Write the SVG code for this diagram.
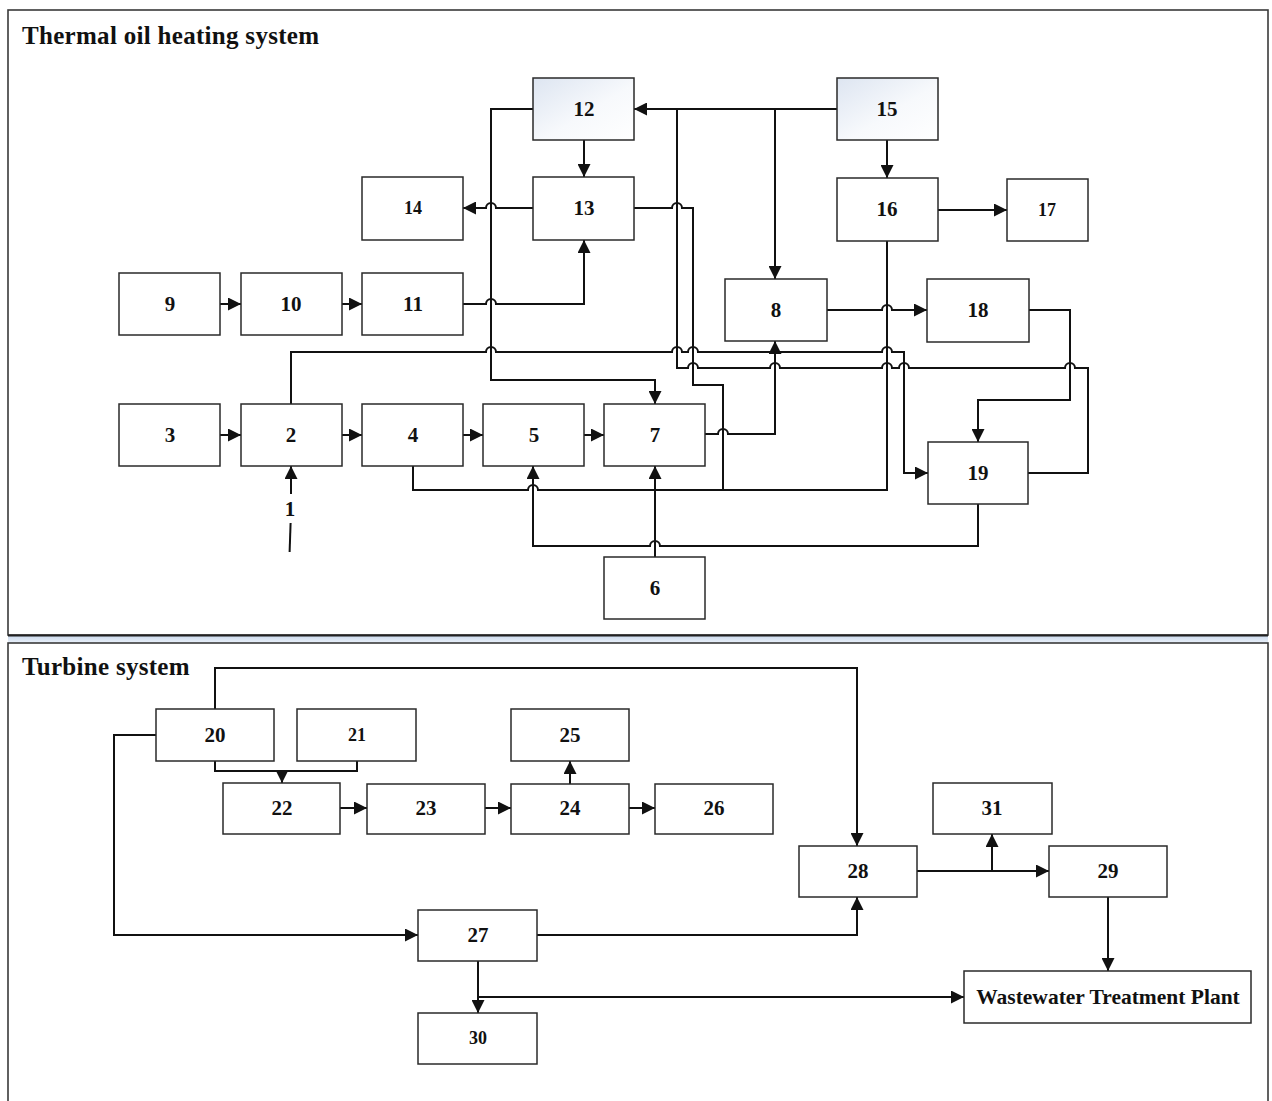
<svg xmlns="http://www.w3.org/2000/svg" width="1272" height="1101" viewBox="0 0 1272 1101">
  <style>
    .panel { fill: #ffffff; stroke: #3a3a3a; stroke-width: 1.6; }
    .node rect { fill: #ffffff; stroke: #2a2a2a; stroke-width: 1.5; }
    .node rect.shaded { fill: url(#shade); }
    .node text { font-family: "Liberation Serif", "Times New Roman", serif; font-weight: bold; font-size: 21px; fill: #111; text-anchor: middle; }
    .node text.small { font-size: 18px; }
    .title { font-family: "Liberation Serif", "Times New Roman", serif; font-weight: bold; font-size: 25px; fill: #111; letter-spacing: 0.3px; }
    .wire { fill: none; stroke: #111; stroke-width: 2; }
    .arrow { marker-end: url(#head); }
  </style>
  <defs>
    <linearGradient id="shade" x1="0" y1="0" x2="1" y2="1">
      <stop offset="0" stop-color="#dde5f1"/>
      <stop offset="0.55" stop-color="#f7f9fc"/>
      <stop offset="1" stop-color="#ffffff"/>
    </linearGradient>
    <linearGradient id="gap" x1="0" y1="0" x2="0" y2="1">
      <stop offset="0" stop-color="#c9d8ec"/>
      <stop offset="1" stop-color="#e9f0f9"/>
    </linearGradient>
    <marker id="head" markerUnits="userSpaceOnUse" markerWidth="14" markerHeight="13" refX="13" refY="6.5" orient="auto">
      <path d="M0,0 L13,6.5 L0,13 z" fill="#111"/>
    </marker>
  </defs>

  <rect width="1272" height="1101" fill="#ffffff"/>

  <!-- system panels -->
  <rect x="8" y="635" width="1260" height="8" fill="url(#gap)"/>
  <rect class="panel" x="8" y="10" width="1260" height="625"/>
  <line x1="8" y1="635.5" x2="1268" y2="635.5" stroke="#222" stroke-width="2.2"/>
  <rect class="panel" x="8" y="643" width="1260" height="470"/>
  <text class="title" x="22" y="44">Thermal oil heating system</text>
  <text class="title" x="22" y="675">Turbine system</text>

  <!-- connectors -->
  <g id="connectors">
    <!-- thermal oil heating system -->
    <path class="wire arrow" d="M837,109 H634"/>
    <path class="wire arrow" d="M775,109 V279"/>
    <path class="wire arrow" d="M584,140 V177"/>
    <path class="wire arrow" d="M887,140 V178"/>
    <path class="wire arrow" d="M533,208 H496 a5,5 0 0 0 -10,0 H463"/>
    <path class="wire arrow" d="M938,210 H1007"/>
    <path class="wire arrow" d="M220,304 H241"/>
    <path class="wire arrow" d="M342,304 H362"/>
    <path class="wire arrow" d="M463,304 H486 a5,5 0 0 1 10,0 H584 V240"/>
    <path class="wire arrow" d="M827,310 H882 a5,5 0 0 1 10,0 H927"/>
    <path class="wire arrow" d="M220,435 H241"/>
    <path class="wire arrow" d="M342,435 H362"/>
    <path class="wire arrow" d="M463,435 H483"/>
    <path class="wire arrow" d="M584,435 H604"/>
    <path class="wire arrow" d="M705,434 H718 a5,5 0 0 1 10,0 H775 V341"/>
    <path class="wire" d="M634,208 H672 a5,5 0 0 1 10,0 H693 V385 H723 V490"/>
    <path class="wire arrow" d="M533,109 H491 V380 H655 V404"/>
    <path class="wire arrow" d="M291,404 V352 H486 a5,5 0 0 1 10,0 H672 a5,5 0 0 1 10,0 H688 a5,5 0 0 1 10,0 H882 a5,5 0 0 1 10,0 H904 V473 H928"/>
    <path class="wire" d="M1028,473 H1088 V368 H1075 a5,5 0 0 0 -10,0 H909 a5,5 0 0 0 -10,0 H892 a5,5 0 0 0 -10,0 H780 a5,5 0 0 0 -10,0 H698 a5,5 0 0 0 -10,0 H677 V109"/>
    <path class="wire" d="M413,466 V490 H528 a5,5 0 0 1 10,0 H887 V241"/>
    <path class="wire arrow" d="M655,557 V466"/>
    <path class="wire arrow" d="M978,504 V546 H660 a5,5 0 0 0 -10,0 H533 V466"/>
    <path class="wire arrow" d="M1029,310 H1070 V400 H978 V442"/>
    <path class="wire arrow" d="M291,494 V466"/>
    <path class="wire" d="M290.6,523 L289.6,552"/>

    <!-- turbine system -->
    <path class="wire arrow" d="M215,709 V668 H857 V846"/>
    <path class="wire arrow" d="M156,735 H114 V935 H418"/>
    <path class="wire" d="M215,761 V771 H357 V761"/>
    <path class="wire arrow" d="M282,771 V783"/>
    <path class="wire arrow" d="M340,808 H367"/>
    <path class="wire arrow" d="M485,808 H511"/>
    <path class="wire arrow" d="M629,808 H655"/>
    <path class="wire arrow" d="M570,784 V761"/>
    <path class="wire arrow" d="M537,935 H857 V897"/>
    <path class="wire arrow" d="M917,871 H1049"/>
    <path class="wire arrow" d="M992,871 V834"/>
    <path class="wire arrow" d="M1108,897 V971"/>
    <path class="wire arrow" d="M478,961 V1013"/>
    <path class="wire arrow" d="M478,997 H964"/>
  </g>

  <!-- inlet label -->
  <g id="n1" class="node"><text x="290" y="516">1</text></g>

  <!-- thermal oil heating nodes -->
  <g id="n2" class="node"><rect x="241" y="404" width="101" height="62"/><text x="291" y="442">2</text></g>
  <g id="n3" class="node"><rect x="119" y="404" width="101" height="62"/><text x="170" y="442">3</text></g>
  <g id="n4" class="node"><rect x="362" y="404" width="101" height="62"/><text x="413" y="442">4</text></g>
  <g id="n5" class="node"><rect x="483" y="404" width="101" height="62"/><text x="534" y="442">5</text></g>
  <g id="n6" class="node"><rect x="604" y="557" width="101" height="62"/><text x="655" y="595">6</text></g>
  <g id="n7" class="node"><rect x="604" y="404" width="101" height="62"/><text x="655" y="442">7</text></g>
  <g id="n8" class="node"><rect x="725" y="279" width="102" height="62"/><text x="776" y="317">8</text></g>
  <g id="n9" class="node"><rect x="119" y="273" width="101" height="62"/><text x="170" y="311">9</text></g>
  <g id="n10" class="node"><rect x="241" y="273" width="101" height="62"/><text x="291" y="311">10</text></g>
  <g id="n11" class="node"><rect x="362" y="273" width="101" height="62"/><text x="413" y="311">11</text></g>
  <g id="n12" class="node"><rect class="shaded" x="533" y="78" width="101" height="62"/><text x="584" y="116">12</text></g>
  <g id="n13" class="node"><rect x="533" y="177" width="101" height="63"/><text x="584" y="215">13</text></g>
  <g id="n14" class="node"><rect x="362" y="177" width="101" height="63"/><text class="small" x="413" y="214">14</text></g>
  <g id="n15" class="node"><rect class="shaded" x="837" y="78" width="101" height="62"/><text x="887" y="116">15</text></g>
  <g id="n16" class="node"><rect x="837" y="178" width="101" height="63"/><text x="887" y="216">16</text></g>
  <g id="n17" class="node"><rect x="1007" y="179" width="81" height="62"/><text class="small" x="1047" y="216">17</text></g>
  <g id="n18" class="node"><rect x="927" y="279" width="102" height="63"/><text x="978" y="317">18</text></g>
  <g id="n19" class="node"><rect x="928" y="442" width="100" height="62"/><text x="978" y="480">19</text></g>

  <!-- turbine nodes -->
  <g id="n20" class="node"><rect x="156" y="709" width="118" height="52"/><text x="215" y="742">20</text></g>
  <g id="n21" class="node"><rect x="297" y="709" width="119" height="52"/><text class="small" x="357" y="741">21</text></g>
  <g id="n22" class="node"><rect x="223" y="783" width="117" height="51"/><text x="282" y="815">22</text></g>
  <g id="n23" class="node"><rect x="367" y="784" width="118" height="50"/><text x="426" y="815">23</text></g>
  <g id="n24" class="node"><rect x="511" y="784" width="118" height="50"/><text x="570" y="815">24</text></g>
  <g id="n25" class="node"><rect x="511" y="709" width="118" height="52"/><text x="570" y="742">25</text></g>
  <g id="n26" class="node"><rect x="655" y="784" width="118" height="50"/><text x="714" y="815">26</text></g>
  <g id="n27" class="node"><rect x="418" y="910" width="119" height="51"/><text x="478" y="942">27</text></g>
  <g id="n28" class="node"><rect x="799" y="846" width="118" height="51"/><text x="858" y="878">28</text></g>
  <g id="n29" class="node"><rect x="1049" y="846" width="118" height="51"/><text x="1108" y="878">29</text></g>
  <g id="n30" class="node"><rect x="418" y="1013" width="119" height="51"/><text class="small" x="478" y="1044">30</text></g>
  <g id="n31" class="node"><rect x="933" y="783" width="119" height="51"/><text x="992" y="815">31</text></g>
  <g id="nwtp" class="node"><rect x="964" y="971" width="287" height="52"/><text x="1108" y="1004" style="font-size:21.5px">Wastewater Treatment Plant</text></g>
</svg>
